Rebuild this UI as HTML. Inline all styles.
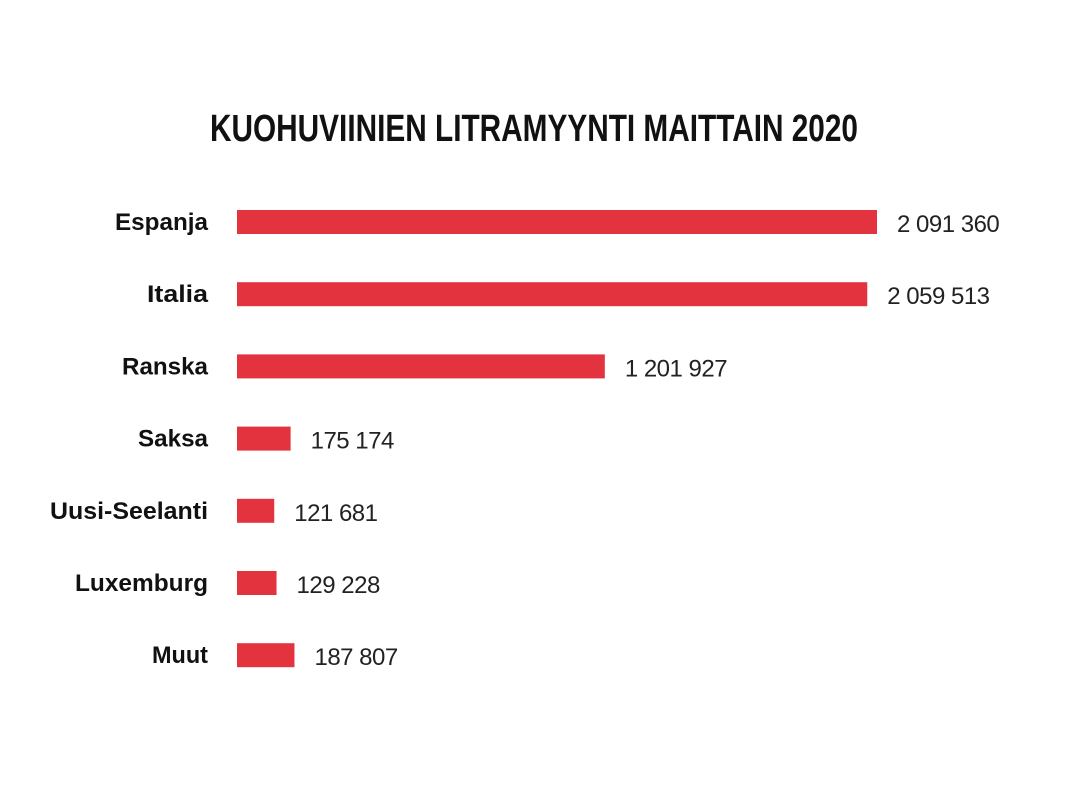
<!DOCTYPE html>
<html><head><meta charset="utf-8"><style>
html,body{margin:0;padding:0;background:#fff;}
svg{display:block;font-family:"Liberation Sans",sans-serif;}
</style></head><body>
<svg id="chart" width="1067" height="800" viewBox="0 0 1067 800">
<text x="210" y="141" font-size="38" font-weight="bold" fill="#111" textLength="648" lengthAdjust="spacingAndGlyphs">KUOHUVIINIEN LITRAMYYNTI MAITTAIN 2020</text>
<g id="bars"></g>
</svg>
<script>
const categories = ["Espanja","Italia","Ranska","Saksa","Uusi-Seelanti","Luxemburg","Muut"];
const values = [2091360,2059513,1201927,175174,121681,129228,187807];
const valueLabels = ["2 091 360","2 059 513","1 201 927","175 174","121 681","129 228","187 807"];
const labelWidths = [93,61,86,70,158,133,56];
const x0 = 237, pxPerUnit = 640/2091360;
const xScale = v => v*pxPerUnit;
const yCenter = i => 222 + i*72.2;
const g = document.getElementById('bars');
const ns = 'http://www.w3.org/2000/svg';
categories.forEach((c,i)=>{
  const y = yCenter(i), w = xScale(values[i]);
  const r = document.createElementNS(ns,'rect');
  
  
  r.setAttribute('x',x0); r.setAttribute('y',y-12);
  r.setAttribute('width',w); r.setAttribute('height',24);
  r.setAttribute('fill','#e2333f');
  g.appendChild(r);
  const t = document.createElementNS(ns,'text');
  
  
  t.setAttribute('x',208); t.setAttribute('y',y+8);
  t.setAttribute('text-anchor','end');
  t.setAttribute('font-size','24'); t.setAttribute('font-weight','bold'); t.setAttribute('fill','#111');
  t.setAttribute('textLength',labelWidths[i]); t.setAttribute('lengthAdjust','spacingAndGlyphs');
  t.textContent = c; g.appendChild(t);
  const v = document.createElementNS(ns,'text');
  
  
  v.setAttribute('x',x0+w+20); v.setAttribute('y',y+10);
  v.setAttribute('font-size','24'); v.setAttribute('fill','#222');
  v.setAttribute('letter-spacing','-0.5');
  v.textContent = valueLabels[i]; g.appendChild(v);
});
</script>
</body></html>
